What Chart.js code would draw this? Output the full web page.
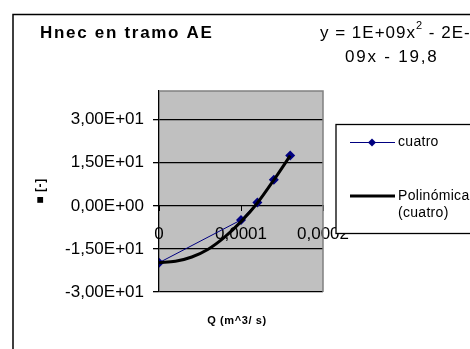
<!DOCTYPE html>
<html>
<head>
<meta charset="utf-8">
<script src="https://cdn.jsdelivr.net/npm/chart.js@4/dist/chart.umd.min.js"></script>
<style>
html,body{margin:0;padding:0;background:#fff;}
#wrap{width:470px;height:349px;position:relative;}
</style>
</head>
<body>
<div id="wrap"><canvas id="c" width="470" height="349"></canvas></div>
<script>
// ---- data ----
const seriesName = "cuatro";
const trendName = ["Polinómica", "(cuatro)"];
const qValues = [0, 0.0001, 0.00012, 0.00014, 0.00016];
const hValues = [-19.8, -4.9, 1.2, 9.1, 17.5];
const trendQ = [0, 0.00002, 0.00004, 0.00006, 0.00008, 0.0001, 0.00012, 0.00014, 0.00016];
const trendH = [-19.8, -19.3, -17.8, -15.1, -10.9, -5.5, 1.0, 9.0, 17.5];
const yTicks = [-30, -15, 0, 15, 30];
const xTicks = [0, 0.0001, 0.0002];
const titleText = "Hnec en tramo AE";
const eqLine1 = ["y = 1E+09x", "2", " - 2E-"];
const eqLine2 = "09x - 19,8";
const xTitle = "Q (m^3/ s)";
const yTitle = "\u25A0 [-]";

const FONT = "'Liberation Sans', Arial, sans-serif";

const fmtY = v => {
  const e = v === 0 ? 0 : Math.floor(Math.log10(Math.abs(v)));
  const m = v / Math.pow(10, e);
  const mant = m.toFixed(2).replace('.', ',');
  const sign = e < 0 ? '-' : '+';
  return mant + 'E' + sign + String(Math.abs(e)).padStart(2, '0');
};
const fmtX = v => v === 0 ? '0' : String(+v.toPrecision(6)).replace('.', ',');

const decor = {
  id: 'decor',
  beforeDraw(chart) {
    const {ctx, chartArea: a} = chart;
    ctx.save();
    ctx.fillStyle = '#C0C0C0';
    ctx.fillRect(a.left, a.top, a.right - a.left, a.bottom - a.top);
    ctx.restore();
  },
  afterDatasetsDraw(chart) {
    const {ctx, chartArea: a} = chart;
    ctx.save();
    ctx.strokeStyle = '#808080';
    ctx.lineWidth = 1.5;
    ctx.beginPath();
    ctx.moveTo(a.left, a.top); ctx.lineTo(a.right, a.top); ctx.lineTo(a.right, a.bottom);
    ctx.stroke();
    ctx.restore();
  },
  afterDraw(chart) {
    const {ctx} = chart;
    ctx.save();
    // outer chart border
    ctx.strokeStyle = '#000';
    ctx.lineWidth = 1.5;
    ctx.strokeRect(13, 14.5, 520, 400);
    // title
    ctx.fillStyle = '#000';
    ctx.textBaseline = 'middle';
    ctx.textAlign = 'left';
    ctx.font = 'bold 17px ' + FONT;
    ctx.letterSpacing = '1.7px';
    ctx.fillText(titleText, 40, 33);
    // equation
    ctx.letterSpacing = '1px';
    ctx.font = '17px ' + FONT;
    let x = 320;
    ctx.fillText(eqLine1[0], x, 33);
    x += ctx.measureText(eqLine1[0]).width;
    ctx.font = '11px ' + FONT;
    ctx.fillText(eqLine1[1], x, 26);
    x += ctx.measureText(eqLine1[1]).width;
    ctx.font = '17px ' + FONT;
    ctx.fillText(eqLine1[2], x, 33);
    ctx.letterSpacing = '1.8px';
    ctx.fillText(eqLine2, 345, 57);
    // x title
    ctx.font = 'bold 11px ' + FONT;
    ctx.letterSpacing = '0.6px';
    ctx.textAlign = 'center';
    ctx.fillText(xTitle, 237, 321);
    // y title rotated
    ctx.font = 'bold 12px ' + FONT;
    ctx.translate(41, 191);
    ctx.rotate(-Math.PI / 2);
    ctx.fillText(yTitle, 0, 0);
    ctx.setTransform(1, 0, 0, 1, 0, 0);
    ctx.letterSpacing = '0px';
    // legend
    ctx.fillStyle = '#fff';
    ctx.fillRect(336, 124.5, 200, 109);
    ctx.strokeStyle = '#000';
    ctx.lineWidth = 1.3;
    ctx.strokeRect(336, 124.5, 200, 109);
    const ds0 = chart.data.datasets[0];
    ctx.strokeStyle = ds0.borderColor;
    ctx.lineWidth = 1;
    ctx.beginPath(); ctx.moveTo(350, 142.5); ctx.lineTo(395, 142.5); ctx.stroke();
    ctx.fillStyle = ds0.backgroundColor;
    ctx.beginPath();
    ctx.moveTo(372, 138.5); ctx.lineTo(376, 142.5); ctx.lineTo(372, 146.5); ctx.lineTo(368, 142.5);
    ctx.closePath(); ctx.fill();
    const ds1 = chart.data.datasets[1];
    ctx.strokeStyle = ds1.borderColor;
    ctx.lineWidth = 3;
    ctx.beginPath(); ctx.moveTo(350, 196); ctx.lineTo(395, 196); ctx.stroke();
    ctx.fillStyle = '#000';
    ctx.font = '14px ' + FONT;
    ctx.textAlign = 'left';
    ctx.letterSpacing = '0.3px';
    ctx.fillText(ds0.label, 398, 142);
    ctx.fillText(trendName[0], 398, 196);
    ctx.fillText(trendName[1], 398, 213);
    ctx.restore();
  }
};

new Chart(document.getElementById('c'), {
  type: 'scatter',
  data: {
    datasets: [
      {
        label: seriesName,
        data: qValues.map((q, i) => ({x: q, y: hValues[i]})),
        showLine: true,
        borderColor: '#000080',
        backgroundColor: '#000080',
        borderWidth: 1,
        pointStyle: 'rectRot',
        pointRadius: 5,
        pointBorderWidth: 0,
        order: 1
      },
      {
        label: trendName.join(' '),
        data: trendQ.map((q, i) => ({x: q, y: trendH[i]})),
        showLine: true,
        borderColor: '#000',
        backgroundColor: '#000',
        borderWidth: 3,
        pointRadius: 0,
        cubicInterpolationMode: 'monotone',
        order: 0
      }
    ]
  },
  options: {
    responsive: false,
    animation: false,
    events: [],
    layout: {padding: {left: 0, top: 91, right: 147, bottom: 57}},
    plugins: {legend: {display: false}, tooltip: {enabled: false}, title: {display: false}},
    scales: {
      x: {
        type: 'linear',
        min: 0, max: 0.0002,
        position: {y: 0},
        afterBuildTicks: s => { s.ticks = xTicks.map(v => ({value: v})); },
        grid: {drawOnChartArea: false, color: '#000', tickLength: 5, lineWidth: 1},
        border: {color: '#000', width: 1},
        ticks: {
          color: '#000', font: {family: FONT, size: 17}, padding: 13,
          maxRotation: 0, autoSkip: false, callback: v => fmtX(v)
        }
      },
      y: {
        type: 'linear',
        min: -30, max: 40,
        afterBuildTicks: s => { s.ticks = yTicks.map(v => ({value: v})); },
        afterFit: s => { s.width = 159; },
        grid: {color: '#000', lineWidth: 1.3, tickLength: 6},
        border: {color: '#000', width: 1.3},
        ticks: {
          color: '#000', font: {family: FONT, size: 17}, padding: 9,
          callback: v => fmtY(v)
        }
      }
    }
  },
  plugins: [decor]
});
</script>
</body>
</html>
